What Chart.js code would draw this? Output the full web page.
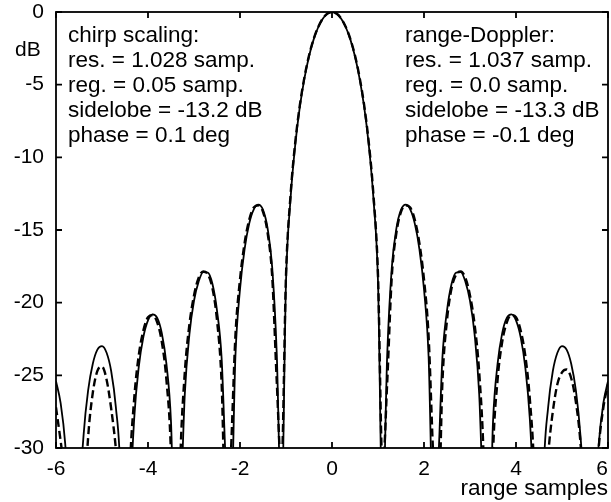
<!DOCTYPE html>
<html>
<head>
<meta charset="utf-8">
<script src="https://cdn.jsdelivr.net/npm/chart.js@4.4.1/dist/chart.umd.min.js"></script>
<style>
  html, body { margin: 0; padding: 0; background: #fff; }
  canvas { display: block; }
</style>
</head>
<body>
<canvas id="chart" width="611" height="502"></canvas>
<script>
// range axis (samples)
const rangeSamples = [
  -6.0, -5.9, -5.8, -5.7, -5.6, -5.5, -5.4, -5.3, -5.2, -5.1,
  -5.0, -4.9, -4.8, -4.7, -4.6, -4.5, -4.4, -4.3, -4.2, -4.1,
  -4.0, -3.9, -3.8, -3.7, -3.6, -3.5, -3.4, -3.3, -3.2, -3.1,
  -3.0, -2.9, -2.8, -2.7, -2.6, -2.5, -2.4, -2.3, -2.2, -2.1,
  -2.0, -1.9, -1.8, -1.7, -1.6, -1.5, -1.4, -1.3, -1.2, -1.1,
  -1.0, -0.9, -0.8, -0.7, -0.6, -0.5, -0.4, -0.3, -0.2, -0.1,
  0.0,
  0.1, 0.2, 0.3, 0.4, 0.5, 0.6, 0.7, 0.8, 0.9, 1.0,
  1.1, 1.2, 1.3, 1.4, 1.5, 1.6, 1.7, 1.8, 1.9, 2.0,
  2.1, 2.2, 2.3, 2.4, 2.5, 2.6, 2.7, 2.8, 2.9, 3.0,
  3.1, 3.2, 3.3, 3.4, 3.5, 3.6, 3.7, 3.8, 3.9, 4.0,
  4.1, 4.2, 4.3, 4.4, 4.5, 4.6, 4.7, 4.8, 4.9, 5.0,
  5.1, 5.2, 5.3, 5.4, 5.5, 5.6, 5.7, 5.8, 5.9, 6.0
];

// chirp scaling response, dB (solid)
const chirpScalingDb = [
  -25.4, -26.9, -29.7, -35.2, -50, -34.9, -29.1, -26.0, -24.2, -23.23,
  -22.99, -23.45, -24.72, -27.15, -31.8, -47, -34.9, -27.97, -24.4, -22.35,
  -21.22, -20.8, -21.05, -22.1, -24.2, -28.2, -38.6, -34.8, -26.3, -22.18,
  -19.87, -18.56, -17.9, -17.93, -18.7, -20.54, -23.8, -31.7, -34.8, -23.7,
  -19.08, -16.31, -14.56, -13.58, -13.26, -13.62, -14.89, -17.58, -23.6, -34.8,
  -18.54, -12.79, -9.16, -6.55, -4.58, -3.06, -1.9, -1.05, -0.46, -0.12,
  0,
  -0.12, -0.46, -1.05, -1.9, -3.06, -4.58, -6.55, -9.16, -12.79, -18.54,
  -34.8, -23.6, -17.58, -14.89, -13.62, -13.26, -13.58, -14.56, -16.31, -19.08,
  -23.7, -34.8, -31.7, -23.8, -20.54, -18.7, -17.93, -17.9, -18.56, -19.87,
  -22.18, -26.3, -34.8, -38.6, -28.2, -24.2, -22.1, -21.05, -20.8, -21.22,
  -22.35, -24.4, -27.97, -34.9, -47, -31.8, -27.15, -24.72, -23.45, -22.99,
  -23.23, -24.2, -26.0, -29.1, -34.9, -50, -35.2, -29.7, -26.9, -25.4
];

// range-Doppler response, dB (dashed)
const rangeDopplerDb = [
  -27.2, -29.5, -32, -35, -40, -45, -35, -29.2, -26.2, -24.7,
  -24.4, -25.3, -27.3, -30, -34, -45, -32, -26.6, -23.6, -21.9,
  -21.0, -20.85, -21.35, -22.7, -25.3, -30.5, -45, -31, -24.8, -21.5,
  -19.5, -18.3, -17.85, -18.05, -19.0, -21.2, -25.5, -36, -30.5, -22.3,
  -18.4, -15.9, -14.3, -13.45, -13.3, -13.75, -15.2, -18.2, -25.5, -31.5,
  -18.1, -12.55, -9.0, -6.43, -4.5, -3.0, -1.86, -1.03, -0.45, -0.11,
  0,
  -0.11, -0.45, -1.03, -1.86, -3.0, -4.5, -6.43, -9.0, -12.55, -18.1,
  -31.5, -25.5, -18.2, -15.2, -13.75, -13.3, -13.45, -14.3, -15.9, -18.4,
  -22.3, -30.5, -36, -25.5, -21.2, -19.0, -18.05, -17.85, -18.3, -19.5,
  -21.5, -24.8, -31, -45, -30.5, -25.3, -22.7, -21.35, -20.85, -21.0,
  -21.9, -23.6, -26.6, -32, -45, -36, -30.5, -27.5, -25.6, -24.8,
  -24.6, -25.2, -26.8, -29.6, -35, -50, -35, -29.9, -27.2, -25.6
];

const xTicks = [-6, -4, -2, 0, 2, 4, 6];
const yTicks = [0, -5, -10, -15, -20, -25, -30];

const chirpNotes = ['chirp scaling:', 'res. = 1.028 samp.', 'reg. = 0.05 samp.', 'sidelobe = -13.2 dB', 'phase = 0.1 deg'];
const dopplerNotes = ['range-Doppler:', 'res. = 1.037 samp.', 'reg. = 0.0 samp.', 'sidelobe = -13.3 dB', 'phase = -0.1 deg'];

const FONT = '"Liberation Sans", Arial, Helvetica, sans-serif';

const toPoints = (ys) => rangeSamples.map((x, i) => ({ x: x, y: ys[i] }));

// box, inward ticks and the text notes
const frameAndNotes = {
  id: 'frameAndNotes',
  afterDraw(chart) {
    const { ctx, chartArea: a, scales: { x, y } } = chart;
    ctx.save();
    ctx.strokeStyle = '#000';
    ctx.lineWidth = 1.8;
    ctx.strokeRect(a.left, a.top, a.right - a.left, a.bottom - a.top);
    ctx.beginPath();
    xTicks.forEach((v) => {
      const px = x.getPixelForValue(v);
      ctx.moveTo(px, a.bottom); ctx.lineTo(px, a.bottom - 6);
      ctx.moveTo(px, a.top); ctx.lineTo(px, a.top + 6);
    });
    yTicks.forEach((v) => {
      const py = y.getPixelForValue(v);
      ctx.moveTo(a.left, py); ctx.lineTo(a.left + 6, py);
      ctx.moveTo(a.right, py); ctx.lineTo(a.right - 6, py);
    });
    ctx.stroke();

    ctx.fillStyle = '#000';
    ctx.font = '22.5px ' + FONT;
    ctx.textBaseline = 'middle';
    chirpNotes.forEach((t, i) => ctx.fillText(t, 68, 36 + i * 25));
    dopplerNotes.forEach((t, i) => ctx.fillText(t, 405, 36 + i * 25));
    ctx.font = '21px ' + FONT;
    ctx.fillText('dB', 15, 50);
    ctx.font = '22.5px ' + FONT;
    ctx.textAlign = 'right';
    ctx.fillText('range samples', 608, 489);
    ctx.restore();
  }
};

new Chart(document.getElementById('chart'), {
  type: 'line',
  data: {
    datasets: [
      {
        label: 'chirp scaling',
        data: toPoints(chirpScalingDb),
        borderColor: '#000',
        borderWidth: 1.8,
        pointRadius: 0,
        cubicInterpolationMode: 'monotone',
        clip: 0,
      },
      {
        label: 'range-Doppler',
        data: toPoints(rangeDopplerDb),
        borderColor: '#000',
        borderWidth: 2.4,
        borderDash: [8, 4],
        pointRadius: 0,
        cubicInterpolationMode: 'monotone',
        clip: 0,
      },
    ],
  },
  options: {
    responsive: false,
    animation: false,
    layout: { padding: { top: 12, right: 3, left: 0, bottom: 0 } },
    plugins: {
      legend: { display: false },
      tooltip: { enabled: false },
    },
    scales: {
      x: {
        type: 'linear',
        min: -6,
        max: 6,
        grid: { display: false, drawTicks: false },
        border: { display: false },
        ticks: {
          stepSize: 2,
          color: '#000',
          padding: 9,
          maxRotation: 0,
          font: { size: 21, family: FONT },
          // keep the last label inside the page, as in the original
          callback: (v) => (v === 6 ? '6\u2007' : String(v)),
        },
        afterFit(scale) {
          scale.height = 54;
          scale.paddingLeft = 0;
          scale.paddingRight = 0;
        },
      },
      y: {
        min: -30,
        max: 0,
        grid: { display: false, drawTicks: false },
        border: { display: false },
        ticks: {
          stepSize: 5,
          color: '#000',
          padding: 12,
          font: { size: 21, family: FONT },
        },
        afterFit(scale) {
          scale.width = 56;
          scale.paddingTop = 0;
          scale.paddingBottom = 0;
        },
      },
    },
  },
  plugins: [frameAndNotes],
});
</script>
</body>
</html>
